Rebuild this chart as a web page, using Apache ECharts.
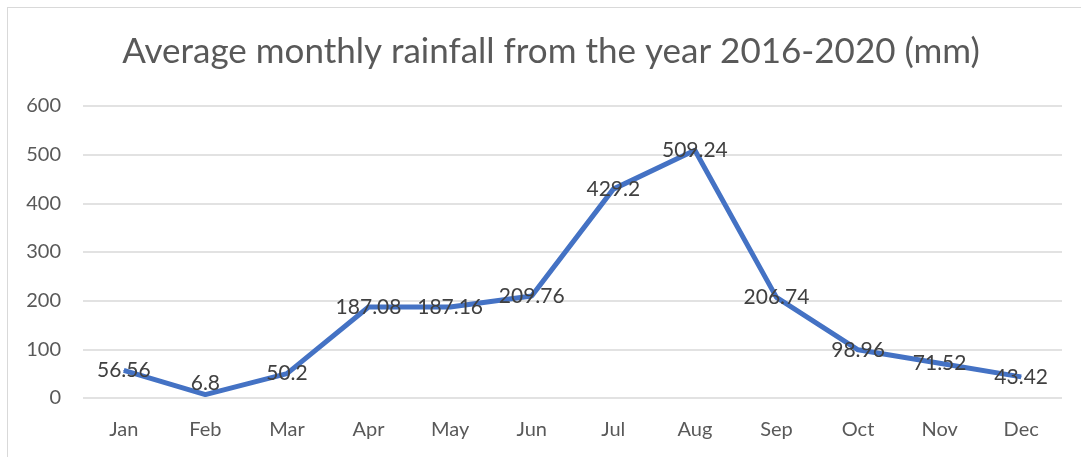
<!DOCTYPE html>
<html>
<head>
<meta charset="utf-8">
<script src="https://cdn.jsdelivr.net/npm/echarts@6/dist/echarts.min.js"></script>
<style>
  html, body { margin: 0; padding: 0; background: #fff; }
  #chart { width: 1081px; height: 457px; }
  #frame { position: absolute; left: 7px; top: 7px; width: 1090px; height: 470px; border: 1px solid #d9d9d9; box-sizing: border-box; pointer-events: none; }
</style>
</head>
<body>
<div id="chart"></div>
<div id="frame"></div>
<script>
// months on the x axis
const months = ['Jan', 'Feb', 'Mar', 'Apr', 'May', 'Jun', 'Jul', 'Aug', 'Sep', 'Oct', 'Nov', 'Dec'];
// average rainfall (mm)
const rainfall = [56.56, 6.8, 50.2, 187.08, 187.16, 209.76, 429.2, 509.24, 206.74, 98.96, 71.52, 43.42];
const yTicks = [0, 100, 200, 300, 400, 500, 600];

// labels too close to the floor get nudged up so they stay inside the plot
const seriesData = rainfall.map(v => v < 20 ? { value: v, label: { offset: [0, -11] } } : v);

const myChart = echarts.init(document.getElementById('chart'));
myChart.setOption({
    animation: false,
    title: {
        text: 'Average monthly rainfall from the year 2016-2020 (mm)',
        left: 546,
        top: 29,
        textAlign: 'center',
        textStyle: {
            fontFamily: 'Lato',
            fontWeight: 'normal',
            fontSize: 35,
            color: '#595959'
        }
    },
    grid: {
        left: 83,
        right: 19,
        top: 106,
        bottom: 59
    },
    xAxis: {
        type: 'category',
        data: months,
        boundaryGap: true,
        axisLine: { show: false },
        axisTick: { show: false },
        axisLabel: {
            fontFamily: 'Lato',
            fontSize: 20,
            color: '#595959',
            margin: 22
        }
    },
    yAxis: {
        type: 'value',
        min: yTicks[0],
        max: yTicks[yTicks.length - 1],
        interval: 100,
        axisLabel: {
            fontFamily: 'Lato',
            fontSize: 20,
            color: '#595959',
            margin: 22
        },
        splitLine: {
            lineStyle: { color: '#d9d9d9', width: 1.5 }
        }
    },
    series: [{
        type: 'line',
        data: seriesData,
        symbol: 'circle',
        symbolSize: 1,
        showAllSymbol: true,
        lineStyle: { color: '#4472c4', width: 5 },
        itemStyle: { color: '#4472c4' },
        label: {
            show: true,
            position: 'inside',
            fontFamily: 'Lato',
            fontSize: 21,
            color: '#404040'
        }
    }]
});
</script>
</body>
</html>
